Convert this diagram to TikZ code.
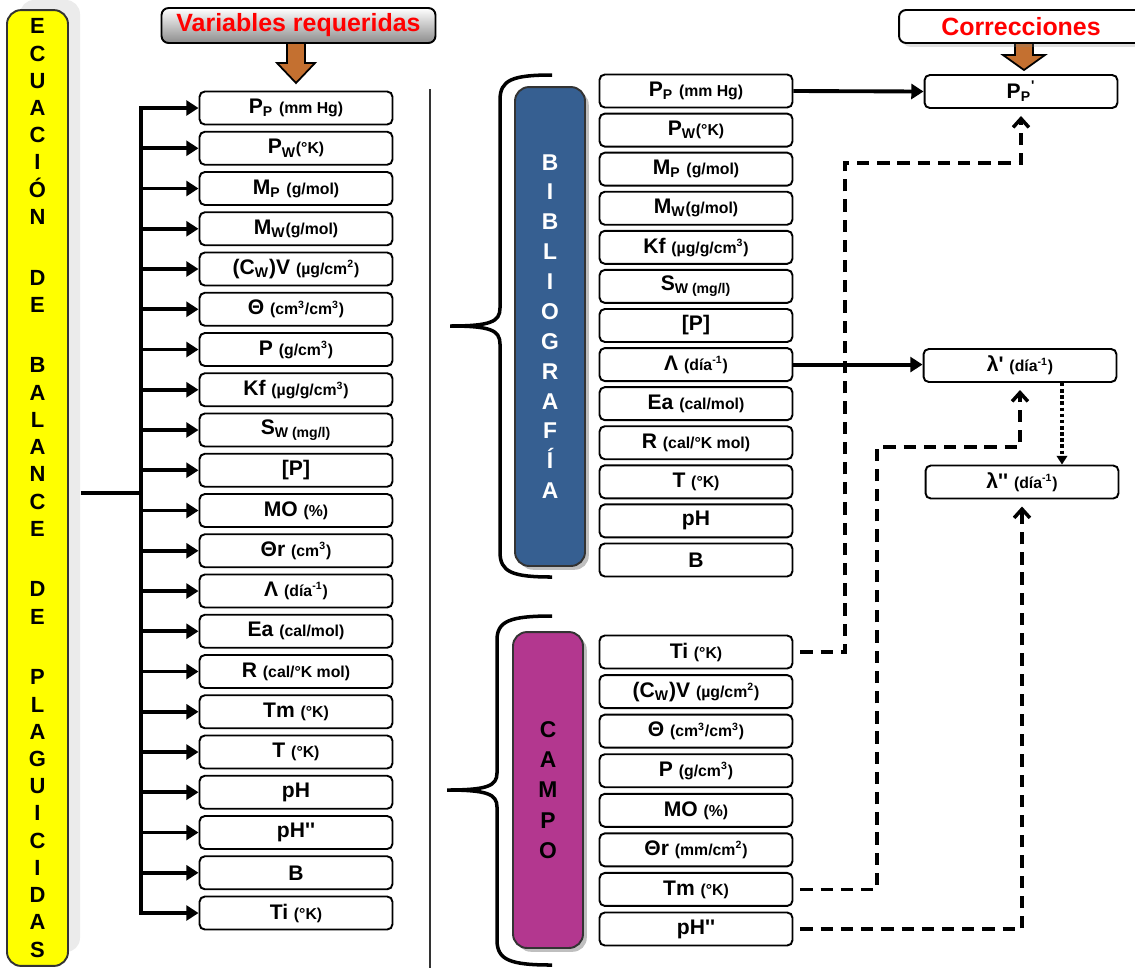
\documentclass[tikz,border=0pt]{standalone}
\usepackage{fontspec}
\newfontfamily\arial{Liberation Sans}
\usetikzlibrary{arrows.meta,shadows}
\definecolor{amarillo}{RGB}{255,255,0}
\definecolor{azulbib}{RGB}{54,95,145}
\definecolor{moradocampo}{RGB}{179,55,143}
\definecolor{naranja}{RGB}{196,112,48}
\newcommand{\unidad}[1]{{\fontsize{9}{10}\selectfont #1}}

\begin{document}
\begin{tikzpicture}[x=0.02cm,y=-0.02cm,
  caja/.style={draw, line width=1.1pt, rounded corners=3pt, fill=white,
    minimum width=3.86cm, minimum height=0.66cm, inner sep=0pt,
    font=\arial\bfseries\fontsize{12}{14}\selectfont},
  columna/.style={draw=black!80, line width=1.1pt, rounded corners=8pt, align=center, inner sep=0pt},
  titulo/.style={draw, line width=1.1pt, rounded corners=4pt, text=red,
    font=\arial\bfseries\fontsize{14.2}{16}\selectfont},
  bloque/.style={draw, line width=1pt, fill=naranja, line join=miter},
  linea/.style={line width=2.2pt},
  flecha/.style={line width=2.2pt, -{Triangle[length=7pt,width=8.5pt]}},
  discont/.style={line width=2pt, dash pattern=on 7pt off 4.5pt,
    -{Straight Barb[length=5pt,width=9pt]}, shorten <=4pt, shorten >=4pt},
  punteado/.style={line width=2pt, dash pattern=on 2pt off 1.5pt,
    -{Triangle[length=5pt,width=6pt]}},
  llave/.style={line width=2pt}]
\useasboundingbox (0,0) rectangle (1135,968);

\fill[black!8, rounded corners=8pt] (20,0) rectangle (80,952);
\node[columna, fill=amarillo, minimum width=1.22cm, minimum height=19.12cm,
  font=\arial\bfseries\fontsize{12.5}{15.5}\selectfont] (ecu) at (37.5,488)
  {E\\C\\U\\A\\C\\I\\Ó\\N\\[19pt]D\\E\\[19pt]B\\A\\L\\A\\N\\C\\E\\[19pt]D\\E\\[19pt]P\\L\\A\\G\\U\\I\\C\\I\\D\\A\\S};

\draw[bloque] (287,43) -- (305,43) -- (305,63) -- (315,63) -- (296,83) -- (277,63) -- (287,63) -- cycle;
\node[titulo, top color=white, bottom color=black!45, minimum width=5.48cm, minimum height=0.62cm] (vartit) at (298.5,25.5) {Variables requeridas};

\foreach \t [count=\i] in {{P\textsubscript{P} \unidad{(mm Hg)}}, {P\textsubscript{W}\unidad{(°K)}},
  {M\textsubscript{P} \unidad{(g/mol)}}, {M\textsubscript{W}\unidad{(g/mol)}},
  {(C\textsubscript{W})V \unidad{(µg/cm\textsuperscript{2})}}, {Θ \unidad{(cm\textsuperscript{3}/cm\textsuperscript{3})}},
  {P \unidad{(g/cm\textsuperscript{3})}}, {Kf \unidad{(µg/g/cm\textsuperscript{3})}},
  {S\textsubscript{W (mg/l)}}, {[P]}, {MO \unidad{(\%)}}, {Θr \unidad{(cm\textsuperscript{3})}},
  {Λ \unidad{(día\textsuperscript{-1})}}, {Ea \unidad{(cal/mol)}}, {R \unidad{(cal/°K mol)}},
  {Tm \unidad{(°K)}}, {T \unidad{(°K)}}, {pH}, {pH''}, {B}, {Ti \unidad{(°K)}}}
  \node[caja] (v\i) at (296,{108+(\i-1)*40.25}) {\t};

\coordinate (tronco) at (141,493);
\draw[linea, line cap=rect] (v1.west -| tronco) -- (v21.west -| tronco);
\draw[linea] ([xshift=0.24cm]ecu.east |- tronco) -- (tronco);
\foreach \i in {1,...,21}
  \draw[flecha] (v\i.west -| tronco) -- (v\i.west);

\draw[line width=0.9pt, black!80] (430,89) -- (430,968);

\node[columna, fill=azulbib, text=white, drop shadow, minimum width=1.4cm, minimum height=9.58cm,
  font=\arial\bfseries\fontsize{13}{17}\selectfont] (biblio) at (550,326.5)
  {B\\I\\B\\L\\I\\O\\G\\R\\A\\F\\Í\\A};
\node[columna, fill=moradocampo, drop shadow, minimum width=1.4cm, minimum height=6.32cm,
  font=\arial\bfseries\fontsize{13}{17.3}\selectfont] (campo) at (548,790)
  {C\\A\\M\\P\\O};

\draw[llave] (552,75) .. controls (512,75) and (500,80) .. (500,100) -- (500,308)
  .. controls (500,322) and (490,326) .. (450,326) .. controls (490,326) and (500,330) .. (500,344)
  -- (500,552) .. controls (500,572) and (512,577) .. (552,577);
\draw[llave] (552,616) .. controls (510,616) and (497,621) .. (497,640) -- (497,773)
  .. controls (497,786) and (487,790) .. (447,790) .. controls (487,790) and (497,794) .. (497,807)
  -- (497,940) .. controls (497,960) and (510,965) .. (552,965);

\foreach \t [count=\i] in {{P\textsubscript{P} \unidad{(mm Hg)}}, {P\textsubscript{W}\unidad{(°K)}},
  {M\textsubscript{P} \unidad{(g/mol)}}, {M\textsubscript{W}\unidad{(g/mol)}},
  {Kf \unidad{(µg/g/cm\textsuperscript{3})}}, {S\textsubscript{W (mg/l)}}, {[P]},
  {Λ \unidad{(día\textsuperscript{-1})}}, {Ea \unidad{(cal/mol)}}, {R \unidad{(cal/°K mol)}},
  {T \unidad{(°K)}}, {pH}, {B}}
  \node[caja] (b\i) at (696,{91+(\i-1)*39.08}) {\t};

\foreach \t [count=\i] in {{Ti \unidad{(°K)}}, {(C\textsubscript{W})V \unidad{(µg/cm\textsuperscript{2})}},
  {Θ \unidad{(cm\textsuperscript{3}/cm\textsuperscript{3})}}, {P \unidad{(g/cm\textsuperscript{3})}},
  {MO \unidad{(\%)}}, {Θr \unidad{(mm/cm\textsuperscript{2})}}, {Tm \unidad{(°K)}}, {pH''}}
  \node[caja] (c\i) at (696,{652+(\i-1)*39.57}) {\t};

\draw[bloque] (1015,43) -- (1033,43) -- (1033,55) -- (1045,55) -- (1024,70) -- (1003,55) -- (1015,55) -- cycle;
\node[titulo, fill=white, drop shadow={opacity=0.25}, minimum width=4.88cm, minimum height=0.66cm] (cortit) at (1021,26.5) {Correcciones};

\node[caja] (pp) at (1021,91.5) {P\textsubscript{P}\textsuperscript{'}};
\node[caja] (lam1) at (1020,365.5) {λ' \unidad{(día\textsuperscript{-1})}};
\node[caja] (lam2) at (1022,482) {λ'' \unidad{(día\textsuperscript{-1})}};

\draw[flecha] (b1.east) -- (pp.west);
\draw[flecha] (b8.east) -- (b8.east -| lam1.west);

\coordinate (codoA) at (845,163);
\coordinate (codoB) at (877,447);
\draw[discont] (c1.east) -| (codoA) -| (pp.south);
\draw[discont] (c7.east) -| (codoB) -| (lam1.south);
\draw[discont] (c8.east) -| (lam2.south);
\draw[punteado] ([xshift=0.84cm]lam1.south) -- ([xshift=0.84cm]lam1.south |- lam2.north);
\end{tikzpicture}
\end{document}
